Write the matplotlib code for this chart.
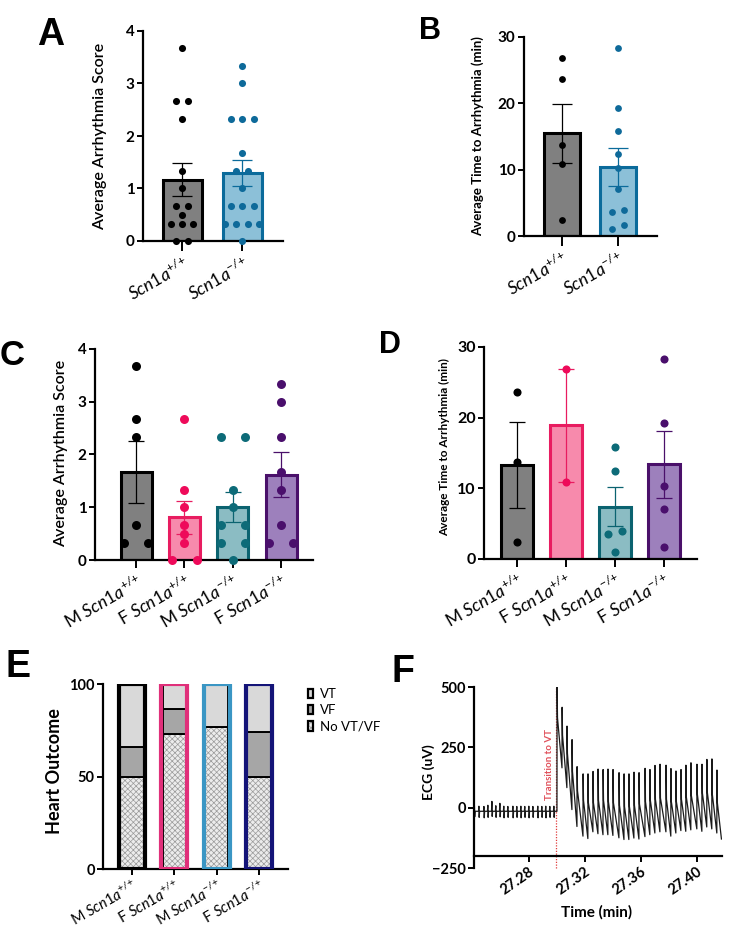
import numpy as np
import matplotlib.pyplot as plt
from matplotlib.patches import Patch
from matplotlib.legend_handler import HandlerTuple

plt.rcParams['font.family'] = ['Lato', 'DejaVu Sans']
plt.rcParams['mathtext.fontset'] = 'custom'
plt.rcParams['mathtext.rm'] = 'Lato'
plt.rcParams['mathtext.it'] = 'Lato:italic'
plt.rcParams['hatch.linewidth'] = 0.5

W, H = 744, 930

# ---------------- data ----------------
lab2 = [r'$\mathit{Scn1a}^{+/{+}}$', r'$\mathit{Scn1a}^{-/{+}}$']
lab4 = [r'M $\mathit{Scn1a}^{+/{+}}$', r'F $\mathit{Scn1a}^{+/{+}}$',
        r'M $\mathit{Scn1a}^{-/{+}}$', r'F $\mathit{Scn1a}^{-/{+}}$']

# A: arrhythmia score by genotype
a_mean = [1.17, 1.29]
a_sem = [0.31, 0.25]
a_wt = [3.67, 2.67, 2.67, 2.33, 1.33, 1.0, 0.67, 0.67, 0.5, 0.33, 0.33, 0.33, 0, 0]
a_het = [3.33, 3.0, 2.33, 2.33, 2.33, 1.67, 1.33, 1.33, 1.0, 0.67, 0.67, 0.67,
         0.33, 0.33, 0.33, 0.33, 0]

# B: time to arrhythmia by genotype
b_mean = [15.5, 10.4]
b_sem = [4.45, 2.8]
b_wt = [26.8, 23.7, 13.7, 10.9, 2.4]
b_het = [28.3, 19.3, 15.8, 12.4, 10.3, 7.1, 3.9, 3.6, 1.7, 1.0]

# C: arrhythmia score by sex/genotype
c_mean = [1.67, 0.81, 1.0, 1.62]
c_sem = [0.58, 0.31, 0.28, 0.42]
c_pts = [[3.67, 2.67, 2.33, 0.67, 0.33, 0.33],
         [2.67, 1.33, 1.0, 0.67, 0.5, 0.33, 0, 0],
         [2.33, 2.33, 1.33, 1.0, 0.67, 0.67, 0.33, 0.33, 0],
         [3.33, 3.0, 2.33, 1.67, 1.33, 0.67, 0.33, 0.33]]

# D: time to arrhythmia by sex/genotype
d_mean = [13.3, 18.9, 7.4, 13.4]
d_sem = [6.1, 8.0, 2.8, 4.7]
d_pts = [[23.7, 13.7, 2.4],
         [26.9, 10.9],
         [15.8, 12.4, 4.0, 3.6, 1.0],
         [28.3, 19.3, 10.3, 7.1, 1.7]]

# E: heart outcome (%)
e_none = [50, 73, 77, 50]
e_vf = [16, 13.5, 0, 24]
e_vt = [34, 13.5, 23, 26]

# F: ECG trace, before transition (small complexes) and after (VT beats)
ecg_base = -15
pre_t = [27.2411, 27.2443, 27.2479, 27.2507, 27.2536, 27.2564, 27.2593, 27.2621,
         27.2650, 27.2686, 27.2714, 27.2743, 27.2771, 27.2800, 27.2829, 27.2864,
         27.2893, 27.2921, 27.2950, 27.2979]
pre_hi = [8, 6, 5, 10, 26, 8, 18, 6, 5, 6, 5, 6, 5, 6, 5, 6, 5, 6, 5, 6]
pre_lo = [-38, -40, -42, -40, -36, -40, -38, -42, -40, -42, -40, -42, -40, -42,
          -40, -42, -40, -42, -40, -40]
post_t = [27.3000, 27.3036, 27.3071, 27.3107, 27.3143, 27.3186, 27.3221, 27.3257,
          27.3293, 27.3329, 27.3364, 27.3400, 27.3443, 27.3479, 27.3514, 27.3550,
          27.3586, 27.3629, 27.3664, 27.3700, 27.3736, 27.3779, 27.3814, 27.3850,
          27.3886, 27.3921, 27.3957, 27.4000, 27.4036, 27.4071, 27.4107, 27.4143]
post_peak = [500, 416, 338, 282, 170, 140, 140, 150, 160, 158, 160, 158, 145, 140,
             140, 147, 145, 163, 158, 175, 180, 176, 162, 152, 158, 176, 186, 180,
             180, 200, 202, 156]
post_trough = [-15, 165, 83, -8, -78, -118, -128, -100, -108, -112, -112, -115,
               -125, -132, -132, -126, -130, -120, -112, -105, -100, -100, -118,
               -105, -95, -98, -92, -88, -98, -80, -88, -105]
post_mid = [372, 300, 225, 150, 70, 30, 20, 20, 30, 30, 25, 20, 10, 5, 5, 10, 15,
            25, 30, 35, 40, 35, 25, 25, 35, 45, 50, 55, 60, 65, 55, 20]
ecg_end = (27.4176, -130)
t_transition = 27.2993

# colours
GRAY, BLACK = '#808080', '#000000'
BLUE_F, BLUE_E, BLUE_D = '#8cc0d8', '#0b6b9b', '#0e6a9a'
PINK_F, PINK_E, PINK_D = '#f78aac', '#e81c60', '#ee0a5a'
TEAL_F, TEAL_E, TEAL_D = '#8bbcc3', '#0b6370', '#0d6b78'
PURP_F, PURP_E, PURP_D = '#9d80bc', '#4a106a', '#4a0f6c'


def axes_px(l, t, r, b):
    return fig.add_axes([l / W, 1 - b / H, (r - l) / W, (b - t) / H])


def swarm(vals, tol, step):
    vals = np.asarray(vals, float)
    order = np.argsort(vals, kind='stable')
    offs = np.zeros(len(vals))
    groups, cur = [], [order[0]]
    for i in order[1:]:
        if vals[i] - vals[cur[-1]] <= tol:
            cur.append(i)
        else:
            groups.append(cur)
            cur = [i]
    groups.append(cur)
    for g in groups:
        n = len(g)
        for k, idx in enumerate(g):
            offs[idx] = (k - (n - 1) / 2) * step
    return offs


def style(ax, xlen=4, ysize=11):
    ax.spines[['top', 'right']].set_visible(False)
    ax.spines[['left', 'bottom']].set_linewidth(1.6)
    ax.tick_params(axis='y', width=1.4, length=4, labelsize=ysize, pad=2)
    ax.tick_params(axis='x', width=1.4, length=xlen, pad=2)
    for lab in ax.get_yticklabels():
        lab.set_fontweight('bold')


def bar_panel(ax, means, sems, pts, faces, edges, dots, bw, tol, step, ms, cap, lwb):
    x = np.arange(len(means))
    ax.bar(x, means, width=bw, color=faces, edgecolor=edges, linewidth=lwb, zorder=1)
    for i in range(len(means)):
        ax.errorbar(x[i], means[i], yerr=sems[i], fmt='none', ecolor=edges[i],
                    elinewidth=0.9, capsize=cap, capthick=0.9, zorder=2)
        offs = swarm(pts[i], tol, step)
        ax.scatter(x[i] + offs, pts[i], s=ms, color=dots[i], linewidths=0,
                   zorder=3, clip_on=False)
    return x


fig = plt.figure(figsize=(W / 100, H / 100), dpi=100)

# ---- A ----
ax = axes_px(143, 31, 283, 241)
x = bar_panel(ax, a_mean, a_sem, [a_wt, a_het], [GRAY, BLUE_F], [BLACK, BLUE_E],
              [BLACK, BLUE_D], 0.65, 0.1, 0.19, 26, 7, 2.2)
ax.set_xlim(-0.65, 1.68)
ax.set_ylim(0, 4)
ax.set_yticks([0, 1, 2, 3, 4])
ax.set_xticks(x, lab2, rotation=30, ha='right', rotation_mode='anchor', fontsize=12.5)
style(ax, xlen=7)
ax.set_ylabel('Average Arrhythmia Score', fontsize=11.5, fontweight='semibold')
ax.yaxis.set_label_coords(-0.257, 0.5)

# ---- B ----
ax = axes_px(524, 37, 657, 236)
x = bar_panel(ax, b_mean, b_sem, [b_wt, b_het], [GRAY, BLUE_F], [BLACK, BLUE_E],
              [BLACK, BLUE_D], 0.64, 1.0, 0.21, 24, 7, 2.2)
ax.set_xlim(-0.68, 1.70)
ax.set_ylim(0, 30)
ax.set_yticks([0, 10, 20, 30])
ax.set_xticks(x, lab2, rotation=30, ha='right', rotation_mode='anchor', fontsize=12.5)
style(ax, xlen=7)
ax.set_ylabel('Average Time to Arrhythmia (min)', fontsize=9.5, fontweight='bold')
ax.yaxis.set_label_coords(-0.30, 0.5)

# ---- C ----
ax = axes_px(95, 349, 313, 560)
x = bar_panel(ax, c_mean, c_sem, c_pts, [GRAY, PINK_F, TEAL_F, PURP_F],
              [BLACK, PINK_E, TEAL_E, PURP_E], [BLACK, PINK_D, TEAL_D, PURP_D],
              0.64, 0.1, 0.5, 42, 6, 2.2)
ax.set_xlim(-0.85, 3.66)
ax.set_ylim(0, 4)
ax.set_yticks([0, 1, 2, 3, 4])
ax.set_xticks(x, lab4, rotation=30, ha='right', rotation_mode='anchor', fontsize=12.5)
style(ax, xlen=6)
ax.set_ylabel('Average Arrhythmia Score', fontsize=11.5, fontweight='semibold')
ax.yaxis.set_label_coords(-0.124, 0.507)

# ---- D ----
ax = axes_px(484, 347, 697, 559)
x = bar_panel(ax, d_mean, d_sem, d_pts, [GRAY, PINK_F, TEAL_F, PURP_F],
              [BLACK, PINK_E, TEAL_E, PURP_E], [BLACK, PINK_D, TEAL_D, PURP_D],
              0.66, 1.0, 0.27, 34, 6, 2.2)
ax.set_xlim(-0.67, 3.67)
ax.set_ylim(0, 30)
ax.set_yticks([0, 10, 20, 30])
ax.set_xticks(x, lab4, rotation=30, ha='right', rotation_mode='anchor', fontsize=12.5)
style(ax, xlen=6, ysize=11.5)
ax.set_ylabel('Average Time to Arrhythmia (min)', fontsize=8.5, fontweight='bold')
ax.yaxis.set_label_coords(-0.16, 0.53)

# ---- E ----
ax = axes_px(103, 684, 288, 869)
x = np.arange(len(e_none))
outline = [BLACK, '#e0307a', '#3a96c4', '#141478']
seg_w = 0.56
ax.bar(x, e_none, width=seg_w, color='#ececec', edgecolor='#9a9a9a', hatch='xxxxxx',
       linewidth=0, zorder=1)
ax.bar(x, e_none, width=seg_w, color='none', edgecolor=BLACK, linewidth=1.4, zorder=2)
ax.bar(x, e_vf, bottom=e_none, width=seg_w, color='#a6a6a6', edgecolor=BLACK,
       linewidth=1.4, zorder=2)
bot = [n + f for n, f in zip(e_none, e_vf)]
ax.bar(x, e_vt, bottom=bot, width=seg_w, color='#d9d9d9', edgecolor=BLACK,
       linewidth=1.4, zorder=2)
tot = [n + f + t for n, f, t in zip(e_none, e_vf, e_vt)]
ax.bar(x, tot, width=0.62, color='none', edgecolor=outline, linewidth=3.0, zorder=3)
ax.set_xlim(-0.69, 3.69)
ax.set_ylim(0, 100)
ax.set_yticks([0, 50, 100])
ax.set_xticks(x, lab4, rotation=30, ha='right', rotation_mode='anchor', fontsize=10.5)
style(ax, xlen=4, ysize=10.5)
ax.set_ylabel('Heart Outcome', fontsize=13, fontweight='bold')
ax.yaxis.set_label_coords(-0.216, 0.53)

h_vt = Patch(facecolor='#d9d9d9', edgecolor=BLACK, linewidth=1.6)
h_vf = Patch(facecolor='#a6a6a6', edgecolor=BLACK, linewidth=1.6)
h_no = (Patch(facecolor='#ececec', edgecolor='#9a9a9a', hatch='xxxxxx', linewidth=0),
        Patch(facecolor='none', edgecolor=BLACK, linewidth=1.6))
fig.legend([h_vt, h_vf, h_no], ['VT', 'VF', 'No VT/VF'], loc='upper left',
           bbox_to_anchor=(308 / W, 1 - 688 / H), frameon=False, fontsize=9.5,
           handlelength=0.4, handleheight=0.7, handletextpad=0.5, labelspacing=0.33,
           borderaxespad=0, borderpad=0,
           handler_map={tuple: HandlerTuple(ndivide=1, pad=0)})

# ---- F ----
ax = axes_px(474, 687, 722, 868)
xs, ys = [pre_t[0] - 0.0004], [ecg_base]
for t, hi, lo in zip(pre_t, pre_hi, pre_lo):
    xs += [t - 0.0004, t - 0.0001, t + 0.0001, t + 0.0004]
    ys += [ecg_base, hi, lo, ecg_base]
for t, q, p, m in zip(post_t, post_trough, post_peak, post_mid):
    xs += [t, t + 0.0001, t + 0.0004]
    ys += [q, p, m]
xs.append(ecg_end[0])
ys.append(ecg_end[1])
ax.plot(xs, ys, color='#1a1a1a', linewidth=0.9, zorder=2)
ax.plot([t_transition, t_transition], [-250, 500], color='#e03c3c', linewidth=0.9,
        linestyle=(0, (1, 1.2)), zorder=1, clip_on=False)
ax.text(t_transition - 0.0012, 180, 'Transition to VT', rotation=90, color='#e0505a',
        fontsize=7, fontweight='bold', ha='right', va='center')
ax.set_xlim(27.2407, 27.418)
ax.set_ylim(-250, 500)
ax.spines['bottom'].set_position(('data', -200))
ax.set_yticks([-250, 0, 250, 500])
ax.set_xticks([27.28, 27.32, 27.36, 27.40], ['27.28', '27.32', '27.36', '27.40'],
              rotation=35, ha='right', rotation_mode='anchor', fontsize=10.5,
              fontweight='bold')
style(ax, xlen=4, ysize=10.5)
ax.set_ylabel('ECG (uV)', fontsize=10, fontweight='bold')
ax.yaxis.set_label_coords(-0.157, 0.53)
ax.set_xlabel('Time (min)', fontsize=11, fontweight='bold')
ax.xaxis.set_label_coords(0.496, -0.204)

# ---- panel letters ----
for letter, lx, base, size in [('A', 37, 45, 27), ('B', 419, 39, 22), ('C', 0, 365, 25),
                               ('D', 379, 353, 22), ('E', 5, 677, 27), ('F', 392, 682, 27)]:
    fig.text(lx / W, 1 - base / H, letter, fontsize=size, fontweight='bold',
             family='Liberation Sans', ha='left', va='baseline')

fig.savefig('out.png', dpi=100)
